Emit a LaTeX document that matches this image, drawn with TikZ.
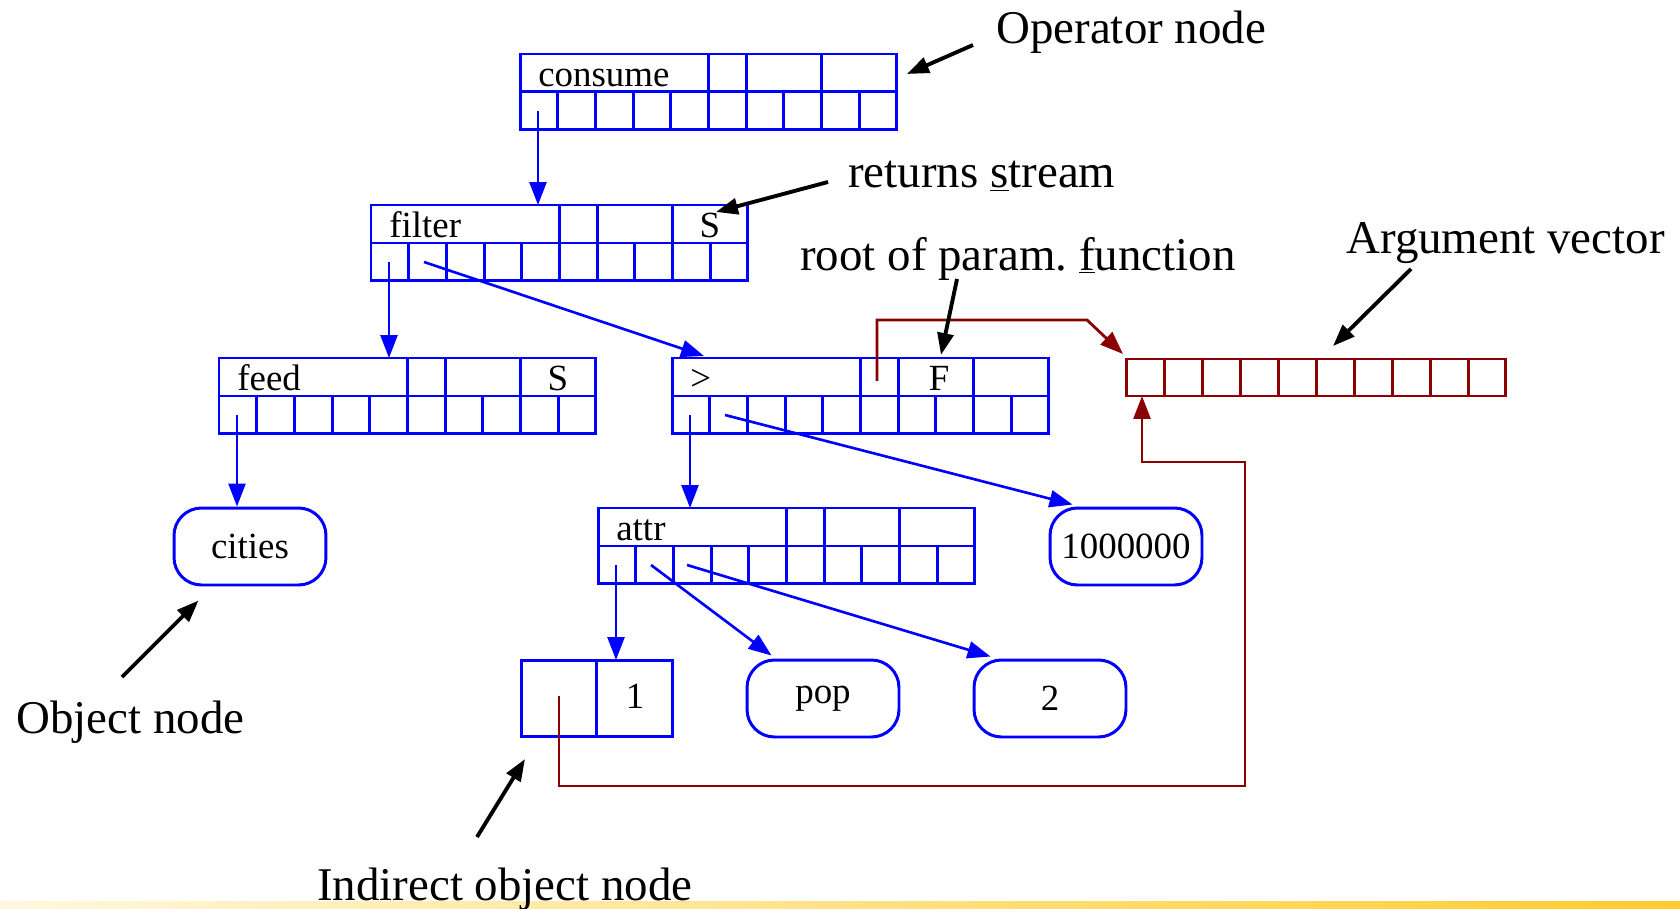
\documentclass[tikz,border=0pt]{standalone}
\usepackage{fontspec}
\setmainfont{Liberation Serif}
\usepackage{tikz}
\usetikzlibrary{arrows.meta}
\definecolor{ptrred}{RGB}{139,0,0}
\definecolor{barlight}{RGB}{255,248,222}
\definecolor{bargold}{RGB}{255,204,46}
\frenchspacing

\begin{document}
\begin{tikzpicture}[x=0.02cm,y=-0.02cm,
    rec/.style={draw=blue, line width=1.7pt, minimum width=7.54cm, minimum height=1.52cm, inner sep=0pt, outer sep=0pt, anchor=north west},
    cellline/.style={blue, line width=1.7pt},
    reclab/.style={font=\fontsize{21}{24}\selectfont, inner sep=0pt, anchor=base west},
    obj/.style={draw=blue, line width=1.7pt, rounded corners=0.55cm, minimum width=3.04cm, minimum height=1.54cm, font=\fontsize{21}{24}\selectfont},
    ptr/.style={blue, line width=1.5pt, -{Triangle[length=0.46cm,width=0.34cm]}},
    argptr/.style={ptrred, line width=1.6pt, -{Triangle[length=0.46cm,width=0.34cm]}},
    note/.style={font=\fontsize{26.7}{30}\selectfont, inner sep=0pt, anchor=base west},
    notearrow/.style={black, line width=2.2pt, -{Triangle[length=0.44cm,width=0.32cm]}}]
    \useasboundingbox (0,0) rectangle (1680,909);
    \shade[left color=barlight, right color=bargold] (0,901) rectangle (1680,909);

    % operator nodes
    \foreach \n/\x/\y/\lab in {consume/520/54/consume, filter/371/205/filter, feed/219/358/feed, gt/672/358/>, attr/598/508/attr}{
        \node[rec] (\n) at (\x,\y) {};
        \draw[cellline] (\n.west) -- (\n.east);
        \foreach \i in {1,...,9}
            \draw[cellline] ([shift={(\i*37.7,0)}]\n.west) -- ([shift={(\i*37.7,38)}]\n.west);
        \foreach \i in {5,6,8}
            \draw[cellline] ([shift={(\i*37.7,0)}]\n.west) -- ([shift={(\i*37.7,-38)}]\n.west);
        \node[reclab] (\n-lab) at ([shift={(18,-5.5)}]\n.west) {\lab};
        \coordinate (\n-p1) at ([shift={(18,19)}]\n.west);
        \coordinate (\n-p2) at ([shift={(53,19)}]\n.west);
        \coordinate (\n-p3) at ([shift={(89,19)}]\n.west);
    }
    \node[reclab, anchor=base] (filter-s) at ([shift={(339,-5.5)}]filter.west) {S};
    \node[reclab, anchor=base] (feed-s) at ([shift={(339,-5.5)}]feed.west) {S};
    \node[reclab, anchor=base] (gt-f) at ([shift={(267,-5.5)}]gt.west) {F};

    % argument vector
    \node[rec, draw=ptrred, minimum width=7.6cm, minimum height=0.74cm] (argv) at (1126,359) {};
    \foreach \i in {1,...,9}
        \draw[ptrred, line width=1.7pt] ([shift={(\i*38,0)}]argv.north west) -- ([shift={(\i*38,0)}]argv.south west);

    % indirect object node
    \node[rec, minimum width=3.04cm, minimum height=1.54cm] (ind) at (521,660) {};
    \draw[cellline] (ind.north) -- (ind.south);
    \node[reclab, anchor=center] (ind-val) at ([shift={(114,-2)}]ind.west) {1};
    \coordinate (ind-p) at ([shift={(38,-2.5)}]ind.west);

    % object nodes
    \node[obj] (cities) at (250,546.5) {cities};
    \node[obj] (big) at (1126,546.5) {1000000};
    \node[obj] (pop) at (823,698.5) {pop};
    \node[obj] (two) at (1050,698.5) {2};

    \draw[ptr] (consume-p1) -- (consume-p1 |- filter.north);
    \draw[ptr] (filter-p1) -- (filter-p1 |- feed.north);
    \draw[ptr] (filter-p2) -- ([shift={(32,-2)}]gt.north west);
    \draw[ptr] (feed-p1) -- (feed-p1 |- cities.north);
    \draw[ptr] (gt-p1) -- (gt-p1 |- attr.north);
    \draw[ptr] (gt-p2) -- ([shift={(24,-2)}]big.north west);
    \draw[ptr] (attr-p1) -- (attr-p1 |- ind.north);
    \draw[ptr] (attr-p2) -- ([shift={(26,-3)}]pop.north west);
    \draw[ptr] (attr-p3) -- ([shift={(18,-2)}]two.north west);

    % links to the argument vector
    \coordinate (gt-fn) at ([shift={(205,-15)}]gt.west);
    \coordinate (fnbend) at (1087,320);
    \draw[argptr] (gt-fn) |- (fnbend) -- ([shift={(-3,-5)}]argv.north west);
    \coordinate (loopdown) at (1245,786);
    \coordinate (loopup) at (1245,462);
    \draw[argptr] (ind-p) |- (loopdown) -- (loopup) -| ([shift={(16,0)}]argv.south west);

    % notes
    \node[note] (opnote) at (996,44) {Operator node};
    \draw[notearrow] ([shift={(-23,1)}]opnote.base west) -- ([shift={(10,20)}]consume.north east);
    \node[note] (retnote) at (848,187) {returns \underline{s}tream};
    \draw[notearrow] ([shift={(-20,-5)}]retnote.base west) -- ([shift={(-32,7)}]filter.north east);
    \node[note] (fnnote) at (800,270) {root of param. \underline{f}unction};
    \draw[notearrow] ([shift={(157,9)}]fnnote.base west) -- ([shift={(269,-3)}]gt.north west);
    \node[note] (argnote) at (1346,253) {Argument vector};
    \draw[notearrow] ([shift={(65,16)}]argnote.base west) -- ([shift={(207,-13)}]argv.north west);
    \node[note] (objnote) at (16,733) {Object node};
    \draw[notearrow] ([shift={(106,-56)}]objnote.base west) -- ([shift={(26,14)}]cities.south west);
    \node[note] (indnote) at (317,900) {Indirect object node};
    \draw[notearrow] ([shift={(160,-63)}]indnote.base west) -- ([shift={(4,22)}]ind.south west);
\end{tikzpicture}
\end{document}
